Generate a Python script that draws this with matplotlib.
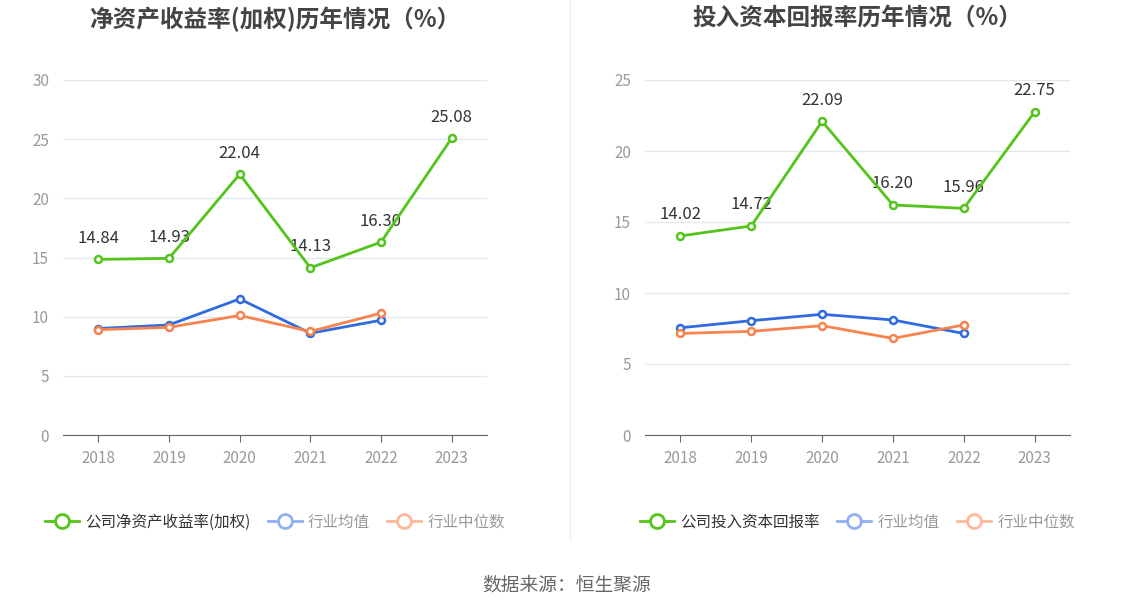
import matplotlib
matplotlib.use("Agg")
import matplotlib.pyplot as plt
from matplotlib.lines import Line2D

plt.rcParams['font.family'] = ['Noto Sans CJK SC', 'DejaVu Sans']

# ------------------------------------------------------------
# Données
# ------------------------------------------------------------
years = ["2018", "2019", "2020", "2021", "2022", "2023"]

roe_company = [14.84, 14.93, 22.04, 14.13, 16.30, 25.08]
roe_ind_mean = [9.0, 9.3, 11.5, 8.6, 9.7]
roe_ind_median = [8.9, 9.1, 10.1, 8.75, 10.3]

roic_company = [14.02, 14.72, 22.09, 16.20, 15.96, 22.75]
roic_ind_mean = [7.55, 8.05, 8.5, 8.1, 7.15]
roic_ind_median = [7.15, 7.3, 7.7, 6.8, 7.75]

GREEN = "#52c41a"
BLUE = "#2f6bdf"
ORANGE = "#f7834f"
GRID = "#e3e7f0"
TICK = "#999999"

fig = plt.figure(figsize=(11.34, 6.12), dpi=100)
ax_l = fig.add_axes([63 / 1134, 1 - 435 / 612, 424 / 1134, 355 / 612])
ax_r = fig.add_axes([645 / 1134, 1 - 435 / 612, 425 / 1134, 355 / 612])


def draw_panel(ax, title, company, mean, median, ymax, ystep, comp_label):
    x = list(range(len(years)))
    ax.plot(x, company, color=GREEN, lw=2, marker="o", ms=5, mfc="white", mew=1.8, zorder=4)
    ax.plot(x[:len(mean)], mean, color=BLUE, lw=2, marker="o", ms=5, mfc="white", mew=1.8, zorder=3)
    ax.plot(x[:len(median)], median, color=ORANGE, lw=2, marker="o", ms=5, mfc="white", mew=1.8, zorder=3)
    for xi, v in zip(x, company):
        ax.annotate(f"{v:.2f}", (xi, v), xytext=(0, 9), textcoords="offset points",
                    ha="center", va="bottom", fontsize=12, color="#333333")

    ax.set_xlim(-0.5, len(years) - 0.5)
    ax.set_ylim(0, ymax)
    ax.set_yticks(range(0, ymax + 1, ystep))
    ax.set_xticks(x)
    ax.set_xticklabels(years)
    ax.grid(axis="y", color=GRID, lw=1)
    ax.set_axisbelow(True)
    for s in ["top", "right", "left"]:
        ax.spines[s].set_visible(False)
    ax.spines["bottom"].set_color("#666666")
    ax.tick_params(axis="y", length=0, labelsize=11, labelcolor=TICK, pad=10)
    ax.tick_params(axis="x", length=5, color="#666666", labelsize=11, labelcolor=TICK, pad=6)
    ax.text(0.5, (435 - 19) / 355, title, transform=ax.transAxes, ha="center", va="center",
            fontsize=17, fontweight="bold", color="#444444")

    handles = [
        Line2D([], [], color=GREEN, lw=2, marker="o", ms=10, mfc="white", mew=2),
        Line2D([], [], color="#8fb0f5", lw=2, marker="o", ms=10, mfc="white", mew=2),
        Line2D([], [], color="#ffb89a", lw=2, marker="o", ms=10, mfc="white", mew=2),
    ]
    leg = ax.legend(handles, [comp_label, "行业均值", "行业中位数"], loc="center",
                    bbox_to_anchor=(0.5, -0.245), ncol=3, frameon=False, fontsize=11.2,
                    handlelength=2.2, handletextpad=0.4, columnspacing=1.1)
    colors = ["#333333", TICK, TICK]
    for t, c in zip(leg.get_texts(), colors):
        t.set_color(c)


draw_panel(ax_l, "净资产收益率(加权)历年情况（%）", roe_company, roe_ind_mean, roe_ind_median,
           30, 5, "公司净资产收益率(加权)")
draw_panel(ax_r, "投入资本回报率历年情况（%）", roic_company, roic_ind_mean, roic_ind_median,
           25, 5, "公司投入资本回报率")

fig.add_artist(Line2D([570 / 1134, 570 / 1134], [1 - 0 / 612, 1 - 540 / 612],
                      color="#eeeeee", lw=1))
fig.text(0.5, 1 - 585 / 612, "数据来源：恒生聚源", ha="center", va="center",
         fontsize=13.5, color="#666666")

fig.savefig("out.png", dpi=100)
